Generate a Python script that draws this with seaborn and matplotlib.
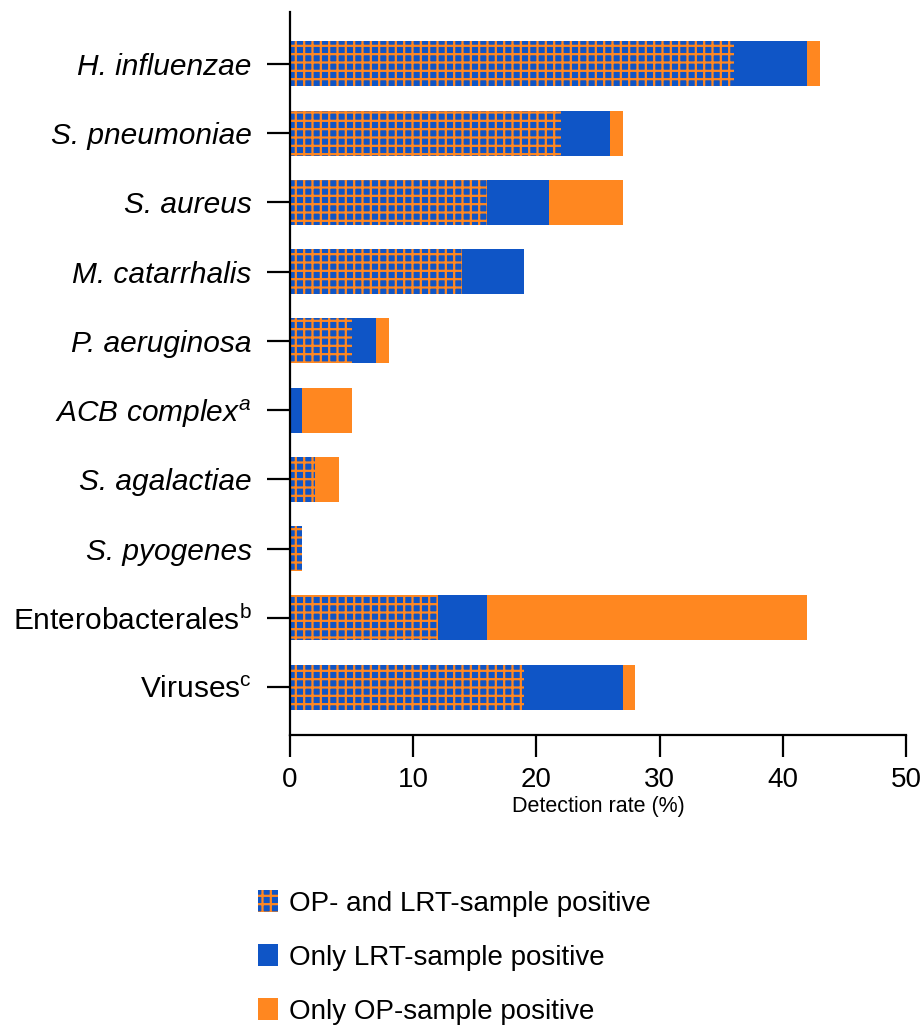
import matplotlib
matplotlib.use("Agg")
import matplotlib.pyplot as plt
import seaborn as sns
import pandas as pd
from matplotlib.patches import Patch

# === DATA ===
pathogens = [
    "H. influenzae", "S. pneumoniae", "S. aureus", "M. catarrhalis", "P. aeruginosa",
    r"$\mathit{ACB\ complex}^{a}$", "S. agalactiae", "S. pyogenes",
    r"Enterobacterales$^{\mathrm{b}}$", r"Viruses$^{\mathrm{c}}$",
]
italic_rows = 8
both_pos = [36, 22, 16, 14, 5, 0, 2, 1, 12, 19]      # OP- and LRT-sample positive
only_lrt = [6, 4, 5, 5, 2, 1, 0, 0, 4, 8]           # Only LRT-sample positive
only_op = [1, 1, 6, 0, 1, 4, 2, 0, 26, 1]           # Only OP-sample positive
legend_labels = ["OP- and LRT-sample positive", "Only LRT-sample positive", "Only OP-sample positive"]

BLUE = "#0F55C6"
ORANGE = "#FF8720"

sns.set_style("white")
plt.rcParams['font.family'] = ['Liberation Sans', 'DejaVu Sans']
plt.rcParams['text.color'] = 'black'
plt.rcParams['xtick.color'] = 'black'
plt.rcParams['ytick.color'] = 'black'
plt.rcParams['axes.labelcolor'] = 'black'
plt.rcParams['mathtext.fontset'] = 'custom'
plt.rcParams['mathtext.rm'] = 'Liberation Sans'
plt.rcParams['mathtext.it'] = 'Liberation Sans:italic'
plt.rcParams['hatch.linewidth'] = 1.6

df = pd.DataFrame({"pathogen": pathogens, "both": both_pos, "lrt": only_lrt, "op": only_op})
df["cum_lrt"] = df["both"] + df["lrt"]
df["total"] = df["cum_lrt"] + df["op"]

fig = plt.figure(figsize=(9.23, 10.29), dpi=100)
ax = fig.add_axes([290 / 923, 1 - 735 / 1029, 616 / 923, 723 / 1029])

# stacked bars drawn back to front (totals first)
sns.barplot(data=df, y="pathogen", x="total", color=ORANGE, width=0.65, ax=ax,
            saturation=1, linewidth=0, orient="h")
sns.barplot(data=df, y="pathogen", x="cum_lrt", color=BLUE, width=0.65, ax=ax,
            saturation=1, linewidth=0, orient="h")
n_before = len(ax.patches)
sns.barplot(data=df, y="pathogen", x="both", color=BLUE, width=0.65, ax=ax,
            saturation=1, linewidth=0, orient="h")
for p in ax.patches[n_before:]:
    p.set_hatch("++")
    p.set_edgecolor(ORANGE)
    p.set_linewidth(0)

ax.set_xlim(0, 50)
ax.set_ylim(9.69, -0.75)
ax.set_xticks(range(0, 51, 10))
ax.set_xlabel("Detection rate (%)", fontsize=15.5, labelpad=2)
ax.set_ylabel("")

for side in ["top", "right"]:
    ax.spines[side].set_visible(False)
for side in ["left", "bottom"]:
    ax.spines[side].set_linewidth(1.6)
    ax.spines[side].set_color("black")

ax.tick_params(axis="y", length=16.5, width=1.6, labelsize=21.5, pad=11, left=True)
ax.tick_params(axis="x", length=16, width=1.6, labelsize=20, pad=7, bottom=True)
for i, lab in enumerate(ax.get_yticklabels()):
    if i < italic_rows:
        lab.set_fontstyle("italic")

handles = [
    Patch(facecolor=BLUE, edgecolor=ORANGE, hatch="++", linewidth=0),
    Patch(facecolor=BLUE, linewidth=0),
    Patch(facecolor=ORANGE, linewidth=0),
]
fig.legend(handles, legend_labels, loc="upper left", bbox_to_anchor=(258 / 923, 1 - 890 / 1029),
           frameon=False, fontsize=20, handlelength=0.73, handleheight=0.86,
           handletextpad=0.4, labelspacing=0.98, borderpad=0, borderaxespad=0)

fig.savefig("out.png", dpi=100)
